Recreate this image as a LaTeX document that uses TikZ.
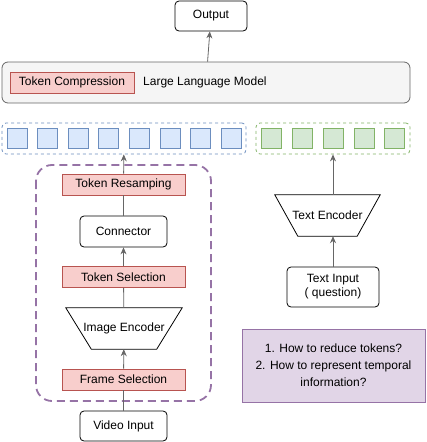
\documentclass[tikz,border=0pt]{standalone}
\usepackage{fontspec}
\setmainfont{Liberation Sans}
\usetikzlibrary{arrows.meta}
\definecolor{redfill}{HTML}{F8CECC}
\definecolor{redline}{HTML}{B85450}
\definecolor{bluefill}{HTML}{DAE8FC}
\definecolor{blueline}{HTML}{6C8EBF}
\definecolor{greenfill}{HTML}{D5E8D4}
\definecolor{greenline}{HTML}{82B366}
\definecolor{purplefill}{HTML}{E1D5E7}
\definecolor{purpleline}{HTML}{9673A6}
\definecolor{grayfill}{HTML}{F5F5F5}
\definecolor{grayline}{HTML}{666666}
\tikzset{
  every node/.style={font=\fontsize{12}{14}\selectfont, inner sep=0pt},
  plainbox/.style={draw, rounded corners=4pt, fill=white, line width=0.8pt},
  redbox/.style={draw=redline, fill=redfill, line width=0.8pt, minimum width=123pt, minimum height=21pt},
  encoder/.style={minimum height=41pt},
  token/.style={line width=0.8pt, minimum width=20pt, minimum height=20pt},
  flow/.style={draw=grayline, line width=0.8pt},
  arr/.style={flow, -{Stealth[length=7pt, width=6pt]}}
}
\begin{document}
\begin{tikzpicture}[x=1pt, y=-1pt]
       \useasboundingbox (0,0) rectangle (427,442);
       % top
       \node[plainbox, minimum width=72pt, minimum height=30pt] (out) at (211,16) {Output};
       \node[draw=grayline, fill=grayfill, rounded corners=6pt, line width=0.8pt,
             minimum width=408pt, minimum height=41pt] (llm) at (206,82.5) {};
       \node[redbox, minimum width=124pt] (tcomp) at (72,82.5) {Token Compression};
       \node[anchor=west] (llmlabel) at (143,82.5) {Large Language Model};
       \draw[arr] (llm) -- (out);
       % token rows
       \node[draw=blueline, dashed, rounded corners=4pt, line width=0.8pt,
             minimum width=244pt, minimum height=31pt] (vtok) at (124,138.5) {};
       \foreach \i in {0,...,7}
         \node[token, draw=blueline, fill=bluefill] (v\i) at (17+30.6*\i,138.5) {};
       \node[draw=greenline, dashed, rounded corners=4pt, line width=0.8pt,
             minimum width=154pt, minimum height=31pt] (ttok) at (333,138.5) {};
       \foreach \i in {0,...,4}
         \node[token, draw=greenline, fill=greenfill] (g\i) at (271.5+30.8*\i,138.5) {};
       % visual branch
       \draw[purpleline, line width=1.8pt, dash pattern=on 8pt off 5pt, rounded corners=16pt]
            (36,165) rectangle (211,401);
       \node[redbox] (tres) at (123.5,184.5) {Token Resamping};
       \node[plainbox, minimum width=87pt, minimum height=31pt] (conn) at (123.5,231.5) {Connector};
       \node[redbox] (tsel) at (123.5,277) {Token Selection};
       \node[encoder, minimum width=116pt] (ienc) at (124,328.5) {Image Encoder};
       \draw[line width=0.8pt] (ienc.north west) -- (ienc.north east)
            -- ([xshift=-25.5pt]ienc.south east) -- ([xshift=25.5pt]ienc.south west) -- cycle;
       \node[redbox] (fsel) at (123.5,379.5) {Frame Selection};
       \node[plainbox, minimum width=87pt, minimum height=30pt] (vid) at (123.5,426) {Video Input};
       \draw[flow] (vid) -- (fsel);
       \draw[arr] (fsel) -- (ienc);
       \draw[flow] (ienc) -- (tsel);
       \draw[arr] (tsel) -- (conn);
       \draw[flow] (conn) -- (tres);
       \draw[arr] (tres) -- (vtok);
       % text branch
       \node[encoder, minimum width=105pt] (tenc) at (327.5,215.5) {Text Encoder};
       \draw[line width=0.8pt] (tenc.north west) -- (tenc.north east)
            -- ([xshift=-23pt]tenc.south east) -- ([xshift=23pt]tenc.south west) -- cycle;
       \node[plainbox, minimum width=92pt, minimum height=40pt, align=center] (tin) at (333,287)
            {Text Input\\( question)};
       \draw[arr] (tin) -- (tin |- tenc.south);
       \draw[arr] (tenc.north -| ttok) -- (ttok);
       % questions
       \node[draw=purpleline, fill=purplefill, line width=1pt, minimum width=183pt, minimum height=73pt,
             align=center, font=\fontsize{12}{17}\selectfont] (quest) at (333.5,365.5)
            {1. How to reduce tokens?\\2. How to represent temporal\\information?};
\end{tikzpicture}
\end{document}
